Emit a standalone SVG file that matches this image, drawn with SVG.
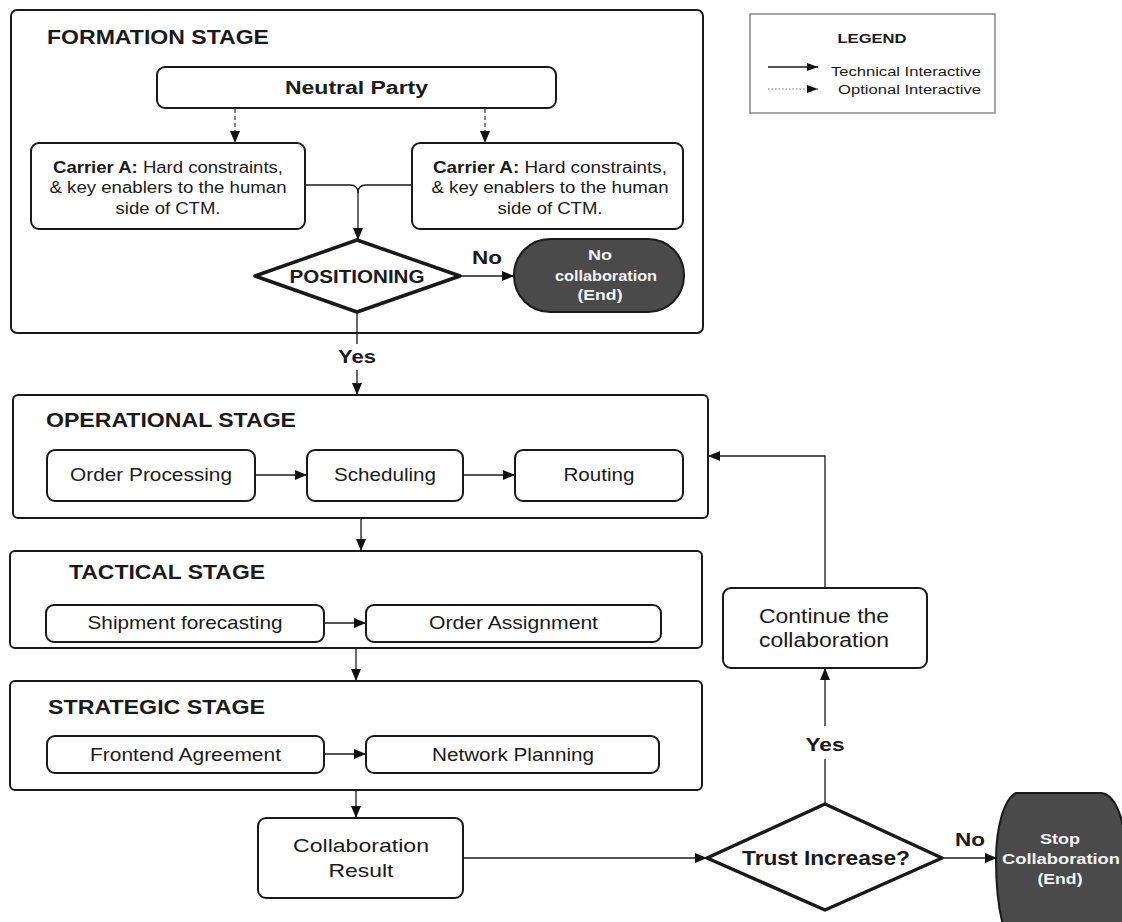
<svg xmlns="http://www.w3.org/2000/svg" width="1122" height="922" viewBox="0 0 1122 922">
<style>
text{font-family:"Liberation Sans",Arial,sans-serif;fill:#1a1a1a}
.b{font-weight:bold}
.box{fill:#fff;stroke:#1a1a1a;stroke-width:2}
.stage{fill:#fff;stroke:#1a1a1a;stroke-width:2}
.dia{fill:#fff;stroke:#1a1a1a;stroke-width:3.5;stroke-linejoin:round}
.end{fill:#4a4a4a;stroke:#1a1a1a;stroke-width:2}
.endt{fill:#f2f2f2;font-weight:bold;font-size:15px}
.st{font-size:20px;font-weight:bold}
.lbl{font-size:19px}
.c{stroke:#1a1a1a;stroke-width:1.3;fill:none}
.dash{stroke:#555;stroke-width:1.5;stroke-dasharray:4,3;fill:none}
.arr{marker-end:url(#ah)}
</style>
<defs>
<marker id="ah" markerUnits="userSpaceOnUse" markerWidth="13" markerHeight="10" refX="12" refY="5" orient="auto">
<path d="M0,0 L12,5 L0,10 z" fill="#111"/>
</marker>
<marker id="ahs" markerUnits="userSpaceOnUse" markerWidth="12" markerHeight="8" refX="11" refY="4" orient="auto">
<path d="M0,0 L11,4 L0,8 z" fill="#111"/>
</marker>
</defs>
<rect width="1122" height="922" fill="#fff"/>

<g id="formation">
<rect class="stage" x="11" y="10" width="692" height="323" rx="6"/>
<text class="st" x="47" y="44" textLength="222" lengthAdjust="spacingAndGlyphs">FORMATION STAGE</text>
</g>
<g id="neutral">
<rect class="box" x="157" y="67" width="399" height="41" rx="8" stroke-width="1.5"/>
<text class="b" x="356.5" y="94" font-size="18" text-anchor="middle" textLength="143" lengthAdjust="spacingAndGlyphs">Neutral Party</text>
</g>
<g id="carrierL">
<rect class="box" x="31" y="143" width="274" height="86" rx="8"/>
<text x="168" y="173" font-size="16" text-anchor="middle" textLength="230" lengthAdjust="spacingAndGlyphs"><tspan font-weight="bold">Carrier A:</tspan> Hard constraints,</text>
<text x="168" y="193" font-size="16" text-anchor="middle" textLength="237" lengthAdjust="spacingAndGlyphs">&amp; key enablers to the human</text>
<text x="168" y="214" font-size="16" text-anchor="middle" textLength="105" lengthAdjust="spacingAndGlyphs">side of CTM.</text>
</g>
<g id="carrierR">
<rect class="box" x="412" y="143" width="271" height="86" rx="8"/>
<text x="550" y="173" font-size="16" text-anchor="middle" textLength="234" lengthAdjust="spacingAndGlyphs"><tspan font-weight="bold">Carrier A:</tspan> Hard constraints,</text>
<text x="550" y="193" font-size="16" text-anchor="middle" textLength="237" lengthAdjust="spacingAndGlyphs">&amp; key enablers to the human</text>
<text x="550" y="214" font-size="16" text-anchor="middle" textLength="105" lengthAdjust="spacingAndGlyphs">side of CTM.</text>
</g>
<g id="positioning">
<polygon class="dia" points="357,240 460,276 357,312 255,276"/>
<text class="b" x="357" y="283" font-size="18" text-anchor="middle" textLength="135" lengthAdjust="spacingAndGlyphs">POSITIONING</text>
</g>
<g id="nocollab">
<rect class="end" x="514" y="239" width="170" height="73" rx="36"/>
<text class="endt" x="600" y="260" text-anchor="middle" textLength="24" lengthAdjust="spacingAndGlyphs">No</text>
<text class="endt" x="606" y="281" text-anchor="middle" textLength="102" lengthAdjust="spacingAndGlyphs">collaboration</text>
<text class="endt" x="600" y="300" text-anchor="middle" textLength="45" lengthAdjust="spacingAndGlyphs">(End)</text>
</g>

<g id="operational">
<rect class="stage" x="13" y="395" width="695" height="123" rx="5"/>
<text class="st" x="46" y="427" textLength="250" lengthAdjust="spacingAndGlyphs">OPERATIONAL STAGE</text>
</g>
<g id="orderprocessing">
<rect class="box" x="47" y="450" width="208" height="51" rx="8"/>
<text class="lbl" x="151" y="481" text-anchor="middle" textLength="162" lengthAdjust="spacingAndGlyphs">Order Processing</text>
</g>
<g id="scheduling">
<rect class="box" x="307" y="450" width="156" height="51" rx="8"/>
<text class="lbl" x="385" y="481" text-anchor="middle" textLength="102" lengthAdjust="spacingAndGlyphs">Scheduling</text>
</g>
<g id="routing">
<rect class="box" x="515" y="450" width="168" height="51" rx="8"/>
<text class="lbl" x="599" y="481" text-anchor="middle" textLength="71" lengthAdjust="spacingAndGlyphs">Routing</text>
</g>

<g id="tactical">
<rect class="stage" x="10" y="551" width="692" height="97" rx="5"/>
<text class="st" x="69" y="579" textLength="196" lengthAdjust="spacingAndGlyphs">TACTICAL STAGE</text>
</g>
<g id="shipment">
<rect class="box" x="46" y="605" width="278" height="37" rx="8"/>
<text class="lbl" x="185" y="629" text-anchor="middle" textLength="195" lengthAdjust="spacingAndGlyphs">Shipment forecasting</text>
</g>
<g id="orderassign">
<rect class="box" x="366" y="605" width="295" height="37" rx="8"/>
<text class="lbl" x="513.5" y="629" text-anchor="middle" textLength="169" lengthAdjust="spacingAndGlyphs">Order Assignment</text>
</g>

<g id="strategic">
<rect class="stage" x="10" y="681" width="692" height="109" rx="5"/>
<text class="st" x="48" y="714" textLength="217" lengthAdjust="spacingAndGlyphs">STRATEGIC STAGE</text>
</g>
<g id="frontend">
<rect class="box" x="47" y="736" width="277" height="37" rx="8"/>
<text class="lbl" x="185.5" y="761" text-anchor="middle" textLength="191" lengthAdjust="spacingAndGlyphs">Frontend Agreement</text>
</g>
<g id="network">
<rect class="box" x="366" y="736" width="293" height="37" rx="8"/>
<text class="lbl" x="513" y="761" text-anchor="middle" textLength="162" lengthAdjust="spacingAndGlyphs">Network Planning</text>
</g>

<g id="collabresult">
<rect class="box" x="258" y="818" width="205" height="80" rx="8"/>
<text class="lbl" x="361" y="852" text-anchor="middle" textLength="136" lengthAdjust="spacingAndGlyphs">Collaboration</text>
<text class="lbl" x="361" y="877" text-anchor="middle" textLength="65" lengthAdjust="spacingAndGlyphs">Result</text>
</g>
<g id="trust">
<polygon class="dia" points="825,804 942,858 825,910 707,858"/>
<text class="b" x="826" y="865" font-size="20" text-anchor="middle" textLength="168" lengthAdjust="spacingAndGlyphs">Trust Increase?</text>
</g>
<g id="continue">
<rect class="box" x="723" y="588" width="204" height="80" rx="8"/>
<text x="824" y="623" font-size="20" text-anchor="middle" textLength="130" lengthAdjust="spacingAndGlyphs">Continue the</text>
<text x="824" y="647" font-size="20" text-anchor="middle" textLength="130" lengthAdjust="spacingAndGlyphs">collaboration</text>
</g>
<g id="stop">
<path class="end" d="M1016,793 L1100,793 C1114,793 1124,815 1126,850 L1126,935 L1006,935 C999,915 996,885 996,860 C996,830 1003,800 1016,793 Z"/>
<text class="endt" x="1060" y="844" text-anchor="middle" textLength="40" lengthAdjust="spacingAndGlyphs">Stop</text>
<text class="endt" x="1061" y="864" text-anchor="middle" textLength="118" lengthAdjust="spacingAndGlyphs">Collaboration</text>
<text class="endt" x="1060" y="884" text-anchor="middle" textLength="45" lengthAdjust="spacingAndGlyphs">(End)</text>
</g>

<g id="legend">
<rect x="750" y="14" width="245" height="99" fill="#fff" stroke="#888" stroke-width="1.5"/>
<text class="b" x="872" y="43" font-size="12" text-anchor="middle" fill="#333" textLength="69" lengthAdjust="spacingAndGlyphs">LEGEND</text>
<line class="c" x1="768" y1="67" x2="818" y2="67" marker-end="url(#ahs)"/>
<text x="831" y="76" font-size="12.5" fill="#333" textLength="150" lengthAdjust="spacingAndGlyphs">Technical Interactive</text>
<line x1="768" y1="89" x2="818" y2="89" stroke="#777" stroke-width="1.2" stroke-dasharray="1.5,2" marker-end="url(#ahs)"/>
<text x="838" y="94" font-size="12.5" fill="#333" textLength="143" lengthAdjust="spacingAndGlyphs">Optional Interactive</text>
</g>

<g id="connectors">
<line class="dash arr" x1="235" y1="109" x2="235" y2="143"/>
<line class="dash arr" x1="485" y1="109" x2="485" y2="143"/>
<path class="c" d="M305,185 H350 Q358,185 358,193"/>
<path class="c" d="M412,185 H366 Q358,185 358,193"/>
<line class="c arr" x1="358" y1="193" x2="358" y2="240"/>
<line class="c arr" x1="460" y1="276" x2="514" y2="276"/>
<text class="b" x="487" y="264" font-size="18" text-anchor="middle" textLength="30" lengthAdjust="spacingAndGlyphs">No</text>
<line class="c" x1="357" y1="312" x2="357" y2="344"/>
<text class="b" x="357" y="363" font-size="18" text-anchor="middle" textLength="38" lengthAdjust="spacingAndGlyphs">Yes</text>
<line class="c arr" x1="357" y1="370" x2="357" y2="395"/>
<line class="c arr" x1="255" y1="475" x2="307" y2="475"/>
<line class="c arr" x1="463" y1="475" x2="515" y2="475"/>
<line class="c arr" x1="361" y1="518" x2="361" y2="551"/>
<line class="c arr" x1="324" y1="623" x2="366" y2="623"/>
<line class="c arr" x1="356" y1="648" x2="356" y2="681"/>
<line class="c arr" x1="324" y1="754" x2="366" y2="754"/>
<line class="c arr" x1="356" y1="790" x2="356" y2="818"/>
<line class="c arr" x1="463" y1="858" x2="707" y2="858"/>
<line class="c" x1="825" y1="804" x2="825" y2="759"/>
<text class="b" x="825" y="751" font-size="18" text-anchor="middle" textLength="39" lengthAdjust="spacingAndGlyphs">Yes</text>
<line class="c arr" x1="825" y1="726" x2="825" y2="668"/>
<path class="c arr" d="M825,588 V456 H708"/>
<line class="c arr" x1="942" y1="858" x2="997" y2="858"/>
<text class="b" x="970" y="846" font-size="18" text-anchor="middle" textLength="30" lengthAdjust="spacingAndGlyphs">No</text>
</g>
</svg>
